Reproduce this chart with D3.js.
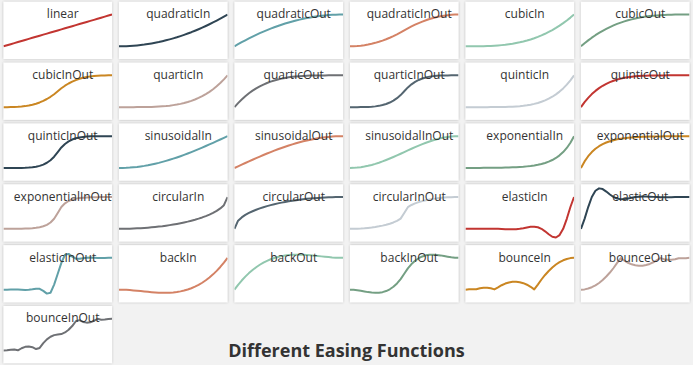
<!DOCTYPE html>
<html>
<head>
<meta charset="utf-8">
<script src="https://cdn.jsdelivr.net/npm/d3@7"></script>
<style>
  html, body { margin: 0; padding: 0; background: #f2f2f2; }
  svg { display: block; }
</style>
</head>
<body>
<script>
// sample positions (same for every curve)
const xs = [0, 0.0333, 0.0667, 0.1, 0.1333, 0.1667, 0.2, 0.2333, 0.2667, 0.3, 0.3333, 0.3667, 0.4, 0.4333, 0.4667, 0.5,
  0.5333, 0.5667, 0.6, 0.6333, 0.6667, 0.7, 0.7333, 0.7667, 0.8, 0.8333, 0.8667, 0.9, 0.9333, 0.9667, 1]

const linear = [0, .033, .067, .1, .133, .167, .2, .233, .267, .3, .333, .367, .4, .433, .467, .5, .533, .567, .6, .633, .667, .7, .733, .767, .8, .833, .867, .9, .933, .967, 1]
const quadraticIn = [0, .001, .004, .01, .018, .028, .04, .054, .071, .09, .111, .134, .16, .188, .218, .25, .284, .321, .36, .401, .444, .49, .538, .588, .64, .694, .751, .81, .871, .934, 1]
const quadraticOut = [0, .066, .129, .19, .249, .306, .36, .412, .462, .51, .556, .599, .64, .679, .716, .75, .782, .812, .84, .866, .889, .91, .929, .946, .96, .972, .982, .99, .996, .999, 1]
const quadraticInOut = [0, .002, .009, .02, .036, .056, .08, .109, .142, .18, .222, .269, .32, .376, .436, .5, .564, .624, .68, .731, .778, .82, .858, .891, .92, .944, .964, .98, .991, .998, 1]
const cubicIn = [0, 0, 0, .001, .002, .005, .008, .013, .019, .027, .037, .049, .064, .081, .102, .125, .152, .182, .216, .254, .296, .343, .394, .451, .512, .579, .651, .729, .813, .903, 1]
const cubicOut = [0, .097, .187, .271, .349, .421, .488, .549, .606, .657, .704, .746, .784, .818, .848, .875, .898, .919, .936, .951, .963, .973, .981, .987, .992, .995, .998, .999, 1, 1, 1]
const cubicInOut = [0, 0, .001, .004, .009, .019, .032, .051, .076, .108, .148, .197, .256, .325, .407, .5, .593, .675, .744, .803, .852, .892, .924, .949, .968, .981, .991, .996, .999, 1, 1]
const quarticIn = [0, 0, 0, 0, 0, .001, .002, .003, .005, .008, .012, .018, .026, .035, .047, .063, .081, .103, .13, .161, .198, .24, .289, .345, .41, .482, .564, .656, .759, .873, 1]
const quarticOut = [0, .127, .241, .344, .436, .518, .59, .655, .711, .76, .802, .839, .87, .897, .919, .938, .953, .965, .974, .982, .988, .992, .995, .997, .998, .999, 1, 1, 1, 1, 1]
const quarticInOut = [0, 0, 0, .001, .003, .006, .013, .024, .04, .065, .099, .145, .205, .282, .379, .5, .621, .718, .795, .855, .901, .935, .96, .976, .987, .994, .997, .999, 1, 1, 1]
const quinticIn = [0, 0, 0, 0, 0, 0, 0, .001, .001, .002, .004, .007, .01, .015, .022, .031, .043, .058, .078, .102, .132, .168, .212, .265, .328, .402, .489, .59, .708, .844, 1]
const quinticOut = [0, .156, .292, .41, .511, .598, .672, .735, .788, .832, .868, .898, .922, .942, .957, .969, .978, .985, .99, .993, .996, .998, .999, .999, 1, 1, 1, 1, 1, 1, 1]
const quinticInOut = [0, 0, 0, 0, .001, .002, .005, .011, .022, .039, .066, .106, .164, .244, .354, .5, .646, .756, .836, .894, .934, .961, .978, .989, .995, .998, .999, 1, 1, 1, 1]
const sinusoidalIn = [0, .001, .005, .012, .022, .034, .049, .066, .086, .109, .134, .161, .191, .223, .257, .293, .331, .371, .412, .455, .5, .546, .593, .642, .691, .741, .792, .844, .895, .948, 1]
const sinusoidalOut = [0, .052, .105, .156, .208, .259, .309, .358, .407, .454, .5, .545, .588, .629, .669, .707, .743, .777, .809, .839, .866, .891, .914, .934, .951, .966, .978, .988, .995, .999, 1]
const sinusoidalInOut = [0, .003, .011, .024, .043, .067, .095, .128, .165, .206, .25, .297, .345, .396, .448, .5, .552, .604, .655, .703, .75, .794, .835, .872, .905, .933, .957, .976, .989, .997, 1]
const exponentialIn = [0, .001, .002, .002, .002, .003, .004, .005, .006, .008, .01, .012, .016, .02, .025, .031, .039, .05, .063, .079, .099, .125, .158, .198, .25, .315, .397, .5, .63, .794, 1]
const exponentialOut = [0, .206, .37, .5, .603, .685, .75, .802, .843, .875, .901, .921, .938, .95, .961, .969, .975, .98, .984, .988, .99, .992, .994, .995, .996, .997, .998, .998, .998, .999, 1]
const exponentialInOut = [0, .001, .001, .002, .003, .005, .008, .012, .02, .031, .05, .079, .125, .198, .315, .5, .685, .802, .875, .921, .95, .969, .98, .988, .992, .995, .997, .998, .999, .999, 1]
const circularIn = [0, .001, .002, .005, .009, .014, .02, .028, .036, .046, .057, .07, .083, .099, .116, .134, .154, .176, .2, .226, .255, .286, .32, .358, .4, .447, .501, .564, .641, .744, 1]
const circularOut = [0, .256, .359, .436, .499, .553, .6, .642, .68, .714, .745, .774, .8, .824, .846, .866, .884, .901, .917, .93, .943, .954, .964, .972, .98, .986, .991, .995, .998, .999, 1]
const circularInOut = [0, .001, .005, .01, .018, .029, .042, .058, .077, .1, .128, .16, .2, .251, .321, .5, .68, .75, .8, .84, .872, .9, .923, .942, .958, .971, .982, .99, .996, .999, 1]
const elasticIn = [0, -.001, -.001, 0, .001, .003, .004, .004, .003, 0, -.005, -.011, -.016, -.017, -.012, 0, .02, .043, .063, .068, .05, 0, -.079, -.172, -.25, -.273, -.198, 0, .315, .687, 1]
const elasticOut = [0, .313, .685, 1, 1.198, 1.273, 1.25, 1.172, 1.079, 1, .95, .932, .938, .957, .98, 1, 1.012, 1.017, 1.016, 1.011, 1.005, 1, .997, .996, .996, .997, .999, 1, 1.001, 1.001, 1]
const elasticInOut = [0, 0, .001, .002, .002, -.002, -.008, -.006, .01, .031, .025, -.039, -.125, -.099, .158, .5, .842, 1.099, 1.125, 1.039, .975, .969, .99, 1.006, 1.008, 1.002, .998, .998, .999, 1, 1]
const backIn = [0, -.002, -.007, -.014, -.024, -.035, -.046, -.058, -.07, -.08, -.089, -.096, -.099, -.1, -.096, -.088, -.074, -.055, -.029, .004, .044, .093, .15, .217, .294, .382, .481, .591, .714, .85, 1]
const backOut = [0, .15, .286, .409, .52, .618, .706, .783, .85, .907, .956, .996, 1.029, 1.055, 1.074, 1.088, 1.096, 1.1, 1.099, 1.096, 1.089, 1.08, 1.07, 1.058, 1.047, 1.035, 1.024, 1.014, 1.007, 1.002, 1]
const backInOut = [0, -.005, -.019, -.038, -.058, -.078, -.093, -.1, -.096, -.079, -.044, .011, .09, .196, .331, .5, .669, .804, .91, .989, 1.044, 1.079, 1.096, 1.1, 1.093, 1.078, 1.058, 1.038, 1.019, 1.005, 1]
const bounceIn = [0, .015, .012, .012, .045, .061, .06, .042, .008, .069, .139, .192, .227, .247, .249, .234, .203, .155, .09, .008, .16, .319, .462, .588, .697, .79, .866, .924, .966, .992, 1]
const bounceOut = [0, .008, .034, .076, .134, .21, .303, .412, .538, .681, .84, .992, .91, .845, .797, .766, .751, .753, .773, .808, .861, .931, .992, .958, .94, .939, .955, .988, .988, .985, 1]
const bounceInOut = [0, .006, .023, .03, .004, .07, .114, .125, .102, .045, .08, .231, .349, .433, .483, .5, .517, .567, .651, .769, .92, .955, .898, .876, .886, .93, .996, .97, .978, .994, 1]

const names = ['linear', 'quadraticIn', 'quadraticOut', 'quadraticInOut', 'cubicIn', 'cubicOut', 'cubicInOut',
  'quarticIn', 'quarticOut', 'quarticInOut', 'quinticIn', 'quinticOut', 'quinticInOut',
  'sinusoidalIn', 'sinusoidalOut', 'sinusoidalInOut', 'exponentialIn', 'exponentialOut', 'exponentialInOut',
  'circularIn', 'circularOut', 'circularInOut', 'elasticIn', 'elasticOut', 'elasticInOut',
  'backIn', 'backOut', 'backInOut', 'bounceIn', 'bounceOut', 'bounceInOut']
const values = [linear, quadraticIn, quadraticOut, quadraticInOut, cubicIn, cubicOut, cubicInOut,
  quarticIn, quarticOut, quarticInOut, quinticIn, quinticOut, quinticInOut,
  sinusoidalIn, sinusoidalOut, sinusoidalInOut, exponentialIn, exponentialOut, exponentialInOut,
  circularIn, circularOut, circularInOut, elasticIn, elasticOut, elasticInOut,
  backIn, backOut, backInOut, bounceIn, bounceOut, bounceInOut]

const colors = ['#c23531', '#2f4554', '#61a0a8', '#d48265', '#91c7ae', '#749f83', '#ca8622', '#bda29a', '#6e7074', '#546570', '#c4ccd3']
const yDomain = [-0.4, 1.4]

const W = 693, H = 365
const cols = Math.ceil(Math.sqrt(names.length))

const svg = d3.select('body').append('svg')
  .attr('width', W)
  .attr('height', H)

// ombre des cases
const defs = svg.append('defs')
defs.append('filter')
  .attr('id', 'shadow')
  .attr('x', '-10%').attr('y', '-10%')
  .attr('width', '120%').attr('height', '120%')
  .append('feDropShadow')
  .attr('dx', 0).attr('dy', 0)
  .attr('stdDeviation', 1)
  .attr('flood-color', '#000')
  .attr('flood-opacity', 0.3)

const cellW = W * (1 / cols - 0.01)
const cellH = H * (1 / cols - 0.01)

names.forEach((name, i) => {
  let left = W * ((i % cols) / cols + 0.005)
  let top = H * (Math.floor(i / cols) / cols + 0.005)

  let x = d3.scaleLinear().domain([0, 1]).range([0, cellW])
  let y = d3.scaleLinear().domain(yDomain).range([cellH, 0])

  let g = svg.append('g')
    .attr('transform', 'translate(' + left + ',' + top + ')')

  g.append('rect')
    .attr('width', cellW)
    .attr('height', cellH)
    .attr('fill', '#fff')
    .attr('filter', 'url(#shadow)')

  g.append('clipPath').attr('id', 'clip' + i)
    .append('rect').attr('width', cellW).attr('height', cellH)

  let line = d3.line()
    .x((d, j) => x(xs[j]))
    .y(d => y(d))

  g.append('path')
    .datum(values[i])
    .attr('d', line)
    .attr('clip-path', 'url(#clip' + i + ')')
    .attr('fill', 'none')
    .attr('stroke', colors[i % colors.length])
    .attr('stroke-width', 2)
    .attr('stroke-linejoin', 'round')

  // titre de la case (drawn over the line, like the original)
  g.append('text')
    .attr('x', cellW / 2 + 5)
    .attr('y', 5)
    .attr('dy', '0.95em')
    .attr('text-anchor', 'middle')
    .style('font-family', '"Open Sans", sans-serif')
    .style('font-size', '12px')
    .attr('fill', '#333')
    .text(name)
})

svg.append('text')
  .attr('x', W / 2)
  .attr('y', H - 8)
  .attr('text-anchor', 'middle')
  .style('font-family', '"Open Sans", sans-serif')
  .style('font-size', '18px')
  .style('font-weight', 'bold')
  .attr('fill', '#333')
  .text('Different Easing Functions')
</script>
</body>
</html>
